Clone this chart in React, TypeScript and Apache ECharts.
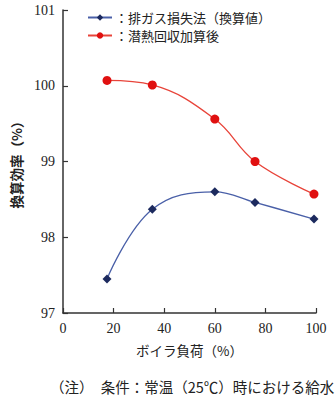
import React, { useEffect, useRef } from "react";
import * as echarts from "echarts";

const loads = [17.4, 35.3, 60, 75.9, 99.2];
const exhaustLoss = [97.45, 98.37, 98.6, 98.46, 98.24];
const latentRecovered = [100.07, 100.01, 99.56, 99.0, 98.57];
const seriesNames = ["排ガス損失法（換算値）", "潜熱回収加算後"];
const xTicks = [0, 20, 40, 60, 80, 100];
const yTicks = [97, 98, 99, 100, 101];
const xAxisName = "ボイラ負荷（%）";
const yAxisName = "換算効率（%）";
const note = "（注）　条件：常温（25℃）時における給水";

const JP = "'Noto Sans CJK JP', 'Noto Sans', sans-serif";
const SERIF = "'Liberation Serif', 'DejaVu Serif', serif";

export default function App() {
  const ref = useRef<HTMLDivElement>(null);
  useEffect(() => {
    if (!ref.current) return;
    const chart = echarts.init(ref.current, null, { renderer: "svg" });
    chart.setOption({
      animation: false,
      backgroundColor: "#ffffff",
      grid: { left: 63, right: 20, top: 10, bottom: 87, containLabel: false },
      legend: {
        orient: "vertical",
        left: 82,
        top: 6,
        itemWidth: 24,
        itemHeight: 8,
        itemGap: 5,
        data: seriesNames,
        formatter: (n: string) => "：" + n,
        textStyle: { fontFamily: JP, fontSize: 13, color: "#222", padding: [0, 0, 0, -2] },
      },
      xAxis: {
        type: "value",
        min: xTicks[0],
        max: xTicks[xTicks.length - 1],
        interval: 20,
        name: xAxisName,
        nameLocation: "middle",
        nameGap: 30,
        nameTextStyle: { fontFamily: JP, fontSize: 13.5, color: "#222" },
        axisLine: { lineStyle: { color: "#333", width: 1.5 } },
        axisTick: { inside: true, length: 5, lineStyle: { color: "#333", width: 1.2 } },
        axisLabel: { fontFamily: SERIF, fontSize: 14, color: "#222", margin: 8 },
        splitLine: { show: false },
      },
      yAxis: {
        type: "value",
        min: yTicks[0],
        max: yTicks[yTicks.length - 1],
        interval: 1,
        name: yAxisName,
        nameLocation: "middle",
        nameRotate: 90,
        nameGap: 33,
        nameTextStyle: { fontFamily: JP, fontSize: 13.5, color: "#222", fontWeight: "bold" },
        axisLine: { show: true, lineStyle: { color: "#333", width: 1.5 } },
        axisTick: { show: true, inside: true, length: 5, lineStyle: { color: "#333", width: 1.2 } },
        axisLabel: { fontFamily: SERIF, fontSize: 14, color: "#222", margin: 8 },
        splitLine: { show: false },
      },
      series: [
        {
          name: seriesNames[0],
          type: "line",
          smooth: 0.4,
          data: loads.map((x, i) => [x, exhaustLoss[i]]),
          symbol: "diamond",
          symbolSize: 9,
          itemStyle: { color: "#1c2a5e" },
          lineStyle: { color: "#4a60a8", width: 1.3 },
        },
        {
          name: seriesNames[1],
          type: "line",
          smooth: 0.4,
          data: loads.map((x, i) => [x, latentRecovered[i]]),
          symbol: "circle",
          symbolSize: 9,
          itemStyle: { color: "#e01010" },
          lineStyle: { color: "#e8443a", width: 1.3 },
        },
      ],
      graphic: [
        {
          type: "text",
          left: 50,
          top: 379,
          style: { text: note, fontFamily: JP, fontSize: 14.5, fill: "#222" },
        },
      ],
    });
    return () => chart.dispose();
  }, []);
  return <div ref={ref} style={{ width: 336, height: 400, position: "absolute", left: 0, top: 0 }} />;
}
